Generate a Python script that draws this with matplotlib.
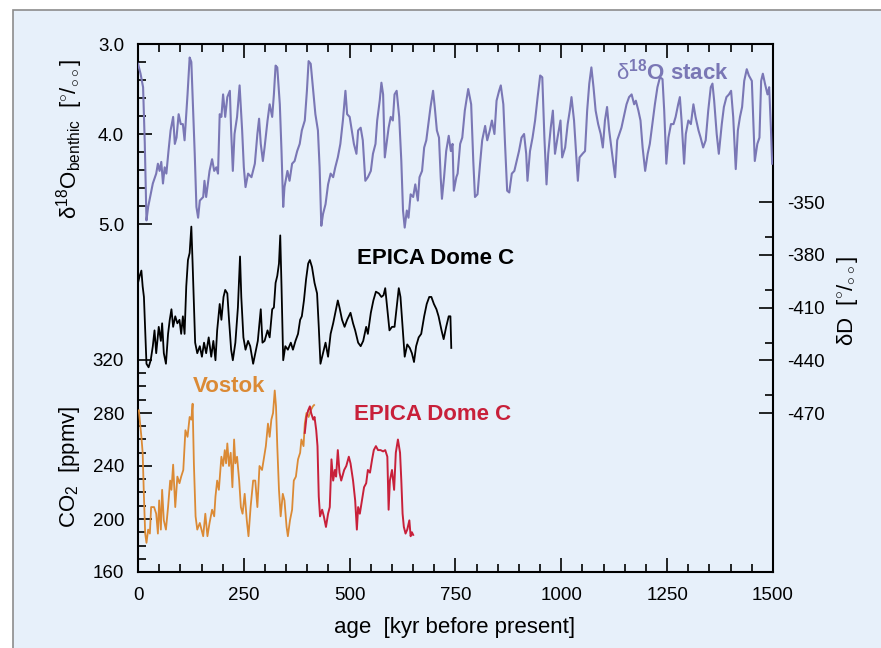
import matplotlib.pyplot as plt
from matplotlib.patches import Rectangle
import numpy as np

plt.rcParams['font.family'] = ['Liberation Sans', 'DejaVu Sans']
plt.rcParams['mathtext.fontset'] = 'custom'
plt.rcParams['mathtext.rm'] = 'Liberation Sans'
plt.rcParams['mathtext.it'] = 'Liberation Sans:italic'
plt.rcParams['mathtext.bf'] = 'Liberation Sans:bold'
plt.rcParams['axes.unicode_minus'] = False

# benthic d18O stack (permil), age in kyr
o18_age = [0, 6, 12, 16, 20, 24, 30, 35, 43, 47, 51, 55, 59, 63, 67, 72, 77, 83, 87, 91, 96, 101, 106, 110,
           117, 122, 126, 130, 134, 138, 142, 146, 154, 157, 161, 169, 175, 180, 185, 189, 193, 197, 201, 206,
           211, 217, 220, 224, 228, 234, 240, 246, 250, 254, 260, 268, 276, 282, 286, 290, 295, 299, 306, 311,
           317, 321, 325, 329, 335, 339, 343, 346, 353, 358, 364, 370, 376, 382, 387, 394, 399, 403, 408, 413,
           419, 425, 429, 433, 437, 443, 449, 455, 461, 466, 472, 478, 484, 490, 494, 500, 505, 510, 516, 520,
           526, 531, 537, 543, 550, 555, 561, 565, 571, 575, 579, 583, 587, 592, 597, 602, 606, 611, 617, 622,
           626, 630, 635, 639, 644, 650, 655, 661, 665, 671, 676, 681, 687, 691, 697, 701, 706, 711, 715, 718,
           723, 728, 734, 739, 743, 746, 752, 755, 761, 766, 772, 780, 787, 792, 796, 802, 808, 813, 820, 825,
           831, 836, 842, 847, 853, 857, 863, 867, 872, 877, 883, 889, 894, 900, 906, 912, 917, 920, 926, 932,
           938, 944, 950, 955, 960, 965, 969, 975, 980, 985, 991, 998, 1002, 1009, 1015, 1020, 1024, 1030, 1035,
           1039, 1043, 1050, 1056, 1061, 1066, 1071, 1076, 1081, 1087, 1093, 1098, 1103, 1108, 1113, 1117, 1123,
           1127, 1132, 1137, 1142, 1149, 1154, 1160, 1166, 1172, 1176, 1182, 1187, 1192, 1198, 1204, 1209, 1215,
           1221, 1227, 1233, 1239, 1243, 1248, 1253, 1259, 1265, 1270, 1276, 1280, 1284, 1290, 1294, 1300, 1306,
           1312, 1317, 1324, 1329, 1335, 1341, 1347, 1353, 1357, 1361, 1367, 1372, 1379, 1384, 1390, 1396, 1401,
           1406, 1412, 1417, 1422, 1427, 1432, 1438, 1443, 1450, 1454, 1457, 1463, 1468, 1472, 1476, 1481, 1487,
           1491, 1495, 1498]
o18_val = [3.22, 3.33, 3.48, 4.10, 4.96, 4.81, 4.67, 4.55, 4.44, 4.33, 4.41, 4.31, 4.55, 4.37, 4.44, 4.19, 3.96,
           3.81, 4.11, 4.04, 3.78, 3.89, 3.89, 4.07, 3.56, 3.15, 3.20, 3.70, 4.22, 4.81, 4.93, 4.74, 4.70, 4.52,
           4.70, 4.41, 4.28, 4.41, 4.37, 4.44, 3.78, 3.81, 3.56, 3.81, 3.59, 3.52, 3.96, 4.41, 4.00, 3.81, 3.46,
           3.96, 4.37, 4.59, 4.44, 4.48, 4.33, 4.00, 3.83, 4.11, 4.30, 4.15, 3.85, 3.67, 3.81, 3.56, 3.24, 3.26,
           3.67, 4.19, 4.81, 4.59, 4.41, 4.52, 4.33, 4.30, 4.19, 4.11, 3.96, 3.85, 3.52, 3.19, 3.22, 3.48, 3.78,
           3.96, 4.37, 5.02, 4.89, 4.78, 4.56, 4.44, 4.48, 4.37, 4.26, 4.11, 3.85, 3.52, 3.78, 3.81, 3.96, 4.11,
           4.22, 3.96, 3.93, 4.07, 4.52, 4.48, 4.41, 4.22, 4.11, 3.85, 3.63, 3.43, 3.56, 4.26, 4.11, 3.93, 3.81,
           3.85, 3.56, 3.52, 3.81, 4.30, 4.85, 5.04, 4.85, 4.93, 4.67, 4.70, 4.56, 4.74, 4.48, 4.41, 4.15, 4.07,
           3.85, 3.70, 3.52, 3.70, 3.96, 4.04, 4.48, 4.72, 4.48, 4.19, 4.02, 4.19, 4.11, 4.63, 4.48, 4.44, 4.11,
           4.04, 3.74, 3.50, 3.67, 4.30, 4.70, 4.67, 4.33, 4.07, 3.91, 4.07, 3.96, 3.85, 4.00, 3.63, 3.52, 3.46,
           3.67, 4.11, 4.63, 4.65, 4.44, 4.41, 4.31, 4.19, 4.04, 4.00, 4.22, 4.52, 4.19, 4.04, 3.85, 3.59, 3.35,
           3.37, 4.04, 4.56, 4.22, 3.93, 3.74, 4.22, 4.04, 3.85, 4.26, 4.15, 3.89, 3.74, 3.59, 3.85, 4.22, 4.52,
           4.26, 4.22, 4.19, 3.74, 3.44, 3.26, 3.48, 3.74, 3.89, 4.00, 4.15, 3.85, 3.70, 3.96, 4.11, 4.33, 4.48,
           4.07, 4.00, 3.93, 3.78, 3.67, 3.59, 3.56, 3.67, 3.63, 3.74, 3.85, 4.15, 4.41, 4.22, 4.11, 3.89, 3.67,
           3.48, 3.37, 3.39, 3.74, 4.33, 4.04, 3.89, 3.89, 3.81, 3.67, 3.59, 3.85, 4.33, 4.00, 3.85, 3.89, 3.67,
           3.81, 3.96, 4.04, 4.15, 4.07, 3.74, 3.48, 3.44, 3.63, 4.00, 4.22, 3.89, 3.70, 3.59, 3.56, 3.52, 3.81,
           4.39, 3.96, 3.81, 3.70, 3.41, 3.28, 3.35, 3.41, 3.93, 4.30, 4.11, 4.04, 3.41, 3.33, 3.44, 3.56, 3.48,
           3.93, 4.33]

# EPICA Dome C deuterium (permil)
dd_age = [0, 4, 8, 11, 14, 17, 20, 25, 30, 35, 39, 43, 49, 54, 57, 61, 66, 71, 75, 79, 83, 88, 93, 98, 102,
          106, 110, 114, 118, 122, 126, 129, 132, 135, 140, 146, 151, 156, 161, 167, 173, 178, 183, 187, 193,
          197, 202, 206, 211, 215, 220, 224, 230, 236, 241, 244, 249, 254, 260, 265, 272, 277, 283, 290, 294,
          299, 306, 311, 317, 321, 325, 329, 333, 336, 339, 343, 348, 354, 361, 366, 372, 378, 383, 387, 392,
          397, 402, 406, 411, 417, 423, 427, 431, 437, 443, 449, 455, 461, 466, 472, 476, 482, 488, 494, 502,
          508, 513, 520, 526, 532, 539, 543, 550, 556, 562, 569, 575, 580, 584, 589, 594, 600, 606, 611, 616,
          620, 625, 630, 636, 642, 647, 652, 657, 663, 669, 676, 682, 688, 693, 699, 705, 710, 717, 722, 728,
          734, 738, 740]
dd_val = [-396, -392, -389, -398, -404, -423, -442, -444, -440, -432, -423, -436, -421, -429, -419, -436, -442,
          -425, -417, -411, -421, -415, -419, -417, -425, -415, -425, -398, -383, -379, -364, -385, -408, -430,
          -436, -432, -438, -430, -436, -427, -438, -429, -440, -423, -408, -417, -404, -400, -402, -417, -434,
          -440, -430, -410, -381, -404, -427, -434, -429, -432, -442, -436, -429, -411, -430, -429, -423, -427,
          -411, -410, -396, -392, -385, -369, -398, -440, -432, -434, -430, -434, -429, -425, -417, -415, -406,
          -394, -385, -383, -387, -396, -402, -421, -442, -436, -430, -438, -425, -419, -413, -406, -410, -417,
          -421, -417, -413, -419, -423, -430, -432, -429, -421, -425, -413, -406, -401, -402, -404, -403, -399,
          -411, -423, -421, -421, -410, -399, -404, -421, -438, -431, -433, -436, -441, -432, -427, -425, -415,
          -408, -404, -404, -408, -411, -415, -423, -428, -421, -415, -415, -433]

# CO2 (ppmv)
vostok_age = [2, 5, 8, 11, 14, 17, 20, 24, 28, 31, 38, 43, 47, 50, 54, 57, 61, 66, 71, 76, 79, 83, 88, 93, 98,
              102, 107, 112, 117, 122, 126, 129, 132, 136, 140, 146, 150, 154, 159, 164, 169, 175, 180, 183, 187,
              191, 197, 201, 205, 208, 211, 215, 219, 223, 227, 230, 234, 239, 243, 247, 252, 257, 261, 266, 272,
              277, 282, 287, 293, 298, 302, 307, 311, 315, 319, 323, 326, 329, 333, 337, 342, 346, 351, 354, 359,
              364, 368, 373, 378, 383, 386, 391, 394, 398, 403, 408, 413, 416]
vostok_co2 = [282, 272, 262, 250, 217, 189, 182, 192, 189, 209, 209, 204, 189, 214, 192, 222, 199, 192, 209, 229,
              222, 241, 209, 232, 227, 232, 237, 267, 262, 277, 275, 287, 242, 202, 192, 197, 192, 187, 204, 187,
              197, 207, 202, 217, 229, 222, 247, 240, 252, 242, 257, 240, 250, 224, 260, 242, 247, 229, 209, 204,
              219, 199, 187, 209, 229, 229, 209, 240, 237, 247, 255, 272, 262, 275, 280, 297, 285, 255, 222, 202,
              219, 214, 194, 187, 199, 207, 229, 232, 245, 250, 260, 255, 272, 280, 277, 282, 285, 286]
edc_co2_age = [394, 398, 402, 406, 409, 414, 417, 421, 424, 427, 430, 435, 439, 444, 449, 453, 457, 461, 465,
               468, 472, 476, 480, 487, 492, 498, 502, 508, 513, 517, 520, 524, 529, 534, 539, 543, 548, 553, 557,
               562, 567, 573, 579, 584, 589, 592, 595, 600, 605, 609, 614, 619, 622, 625, 628, 632, 636, 641, 644,
               647, 650]
edc_co2 = [265, 277, 282, 285, 280, 275, 277, 267, 255, 217, 202, 207, 202, 194, 204, 209, 245, 229, 237, 232,
           252, 235, 229, 237, 240, 247, 242, 229, 214, 192, 209, 204, 214, 224, 227, 237, 235, 245, 252, 255,
           252, 252, 251, 252, 247, 207, 229, 237, 222, 250, 260, 250, 229, 204, 194, 189, 192, 199, 187, 190,
           188]

purple = '#7A77B5'
orange = '#DB8A35'
red = '#C8203A'
bg = '#E7F0FA'

W, H = 881, 648
fig = plt.figure(figsize=(W / 100, H / 100), dpi=100, facecolor='white')
fig.patches.append(Rectangle((13 / W, -0.05), 1.1, 1 - 10 / H + 0.05, transform=fig.transFigure,
                             facecolor=bg, edgecolor='#8C8C8C', linewidth=1.2, zorder=-10))

# axes box in pixels: x 138..773, y 44..572 (from top)
x0, x1, ytop, ybot = 138, 773, 44, 572
rect = [x0 / W, (H - ybot) / H, (x1 - x0) / W, (ybot - ytop) / H]
hpx = ybot - ytop

ax = fig.add_axes(rect)
ax.set_facecolor('none')
for s in ax.spines.values():
    s.set_linewidth(1.5)
ax.set_xlim(0, 1500)
ax.set_xticks(np.arange(0, 1501, 250))
ax.set_xticks(np.arange(0, 1501, 50), minor=True)
ax.tick_params(axis='x', which='both', direction='in', top=True, bottom=True, width=1.2,
               labelsize=13.5, pad=11)
ax.tick_params(axis='x', which='major', length=10)
ax.tick_params(axis='x', which='minor', length=5.5)
ax.set_yticks([])


def overlay():
    a = fig.add_axes(rect, sharex=ax)
    a.set_facecolor('none')
    for s in a.spines.values():
        s.set_visible(False)
    a.tick_params(axis='x', which='both', bottom=False, top=False, labelbottom=False)
    return a


# d18O axis: 3.0 at y=44, 5.0 at y=224
ax_o = overlay()
ax_o.set_ylim(3.0 + hpx / 90.0, 3.0)
ax_o.set_yticks([3.0, 4.0, 5.0])
ax_o.set_yticklabels(['3.0', '4.0', '5.0'])
ax_o.set_yticks([3.2, 3.4, 3.6, 3.8, 4.2, 4.4, 4.6, 4.8], minor=True)
ax_o.plot(o18_age, o18_val, color=purple, lw=1.5)

# CO2 axis: 160 at y=572, 40 ppmv per 53 px
ax_c = overlay()
ax_c.set_ylim(160, 160 + hpx * 40 / 53.0)
ax_c.set_yticks([160, 200, 240, 280, 320])
ax_c.set_yticks([v for v in range(170, 320, 10) if v % 40], minor=True)
ax_c.plot(vostok_age, vostok_co2, color=orange, lw=1.3)
ax_c.plot(edc_co2_age, edc_co2, color=red, lw=1.4)

for a in (ax_o, ax_c):
    a.tick_params(axis='y', which='both', direction='in', left=True, right=False, width=1.2,
                  labelsize=13.5, pad=10)
    a.tick_params(axis='y', which='major', length=10)
    a.tick_params(axis='y', which='minor', length=5.5)

# deltaD axis: -350 at y=202, -470 at y=413
ax_d = overlay()
k = 120 / 211.0
ax_d.set_ylim(-470 - (ybot - 413) * k, -350 + (202 - ytop) * k)
ax_d.yaxis.tick_right()
ax_d.set_yticks([-350, -380, -410, -440, -470])
ax_d.set_yticks([v for v in range(-460, -350, 10) if v % 30], minor=True)
ax_d.tick_params(axis='y', which='both', direction='in', left=False, right=True, width=1.2,
                 labelsize=13.5, pad=10)
ax_d.tick_params(axis='y', which='major', length=10)
ax_d.tick_params(axis='y', which='minor', length=5.5)
ax_d.plot(dd_age, dd_val, color='black', lw=1.3)

# labels
def ft(x, y, s, **kw):
    fig.text(x / W, 1 - y / H, s, ha='center', va='center', **kw)


ft(455, 627, 'age  [kyr before present]', fontsize=16)
ft(70, 139, r'δ$^{18}$O$_{\mathrm{benthic}}$  [$^{\circ}$/$_{\circ\circ}$]', fontsize=16, rotation=90)
ft(70, 467, r'CO$_2$  [ppmv]', fontsize=16, rotation=90)
ft(847, 301, r'δD  [$^{\circ}$/$_{\circ\circ}$]', fontsize=16, rotation=90)

ft(672, 72, r'$\mathrm{δ}^{\mathbf{18}}$O stack', fontsize=16, fontweight='bold', color=purple)
ft(436, 258, 'EPICA Dome C', fontsize=16, fontweight='bold', color='black')
ft(229, 386, 'Vostok', fontsize=16, fontweight='bold', color=orange)
ft(433, 414, 'EPICA Dome C', fontsize=16, fontweight='bold', color=red)

fig.savefig('out.png', dpi=100, facecolor='white')
